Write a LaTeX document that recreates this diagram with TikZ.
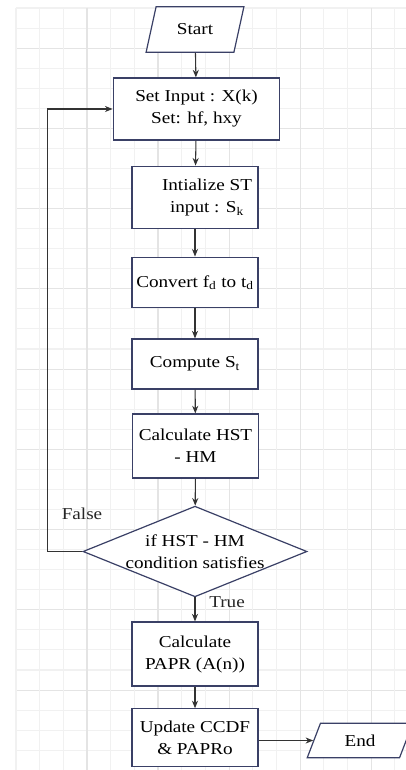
\documentclass[tikz,border=0pt]{standalone}
\usepackage{fontspec}
\setmainfont{Liberation Serif}[FakeStretch=1.15]
\usepackage{xcolor}
\usepackage{tikz}
\usetikzlibrary{arrows.meta,positioning,shapes.geometric,calc}
\definecolor{boxnavy}{HTML}{3A4066}
\definecolor{gridlight}{HTML}{F1F1F1}
\definecolor{griddark}{HTML}{E4E4E4}

\begin{document}
\begin{tikzpicture}[
  x=0.75pt, y=-0.75pt,
  font=\fontsize{12.5}{16.5}\selectfont,
  >={Stealth[length=2mm,width=1.6mm]},
  proc/.style={draw=boxnavy, line width=0.9pt, fill=white,
               minimum width=94.5pt, minimum height=47pt,
               align=center, inner sep=2pt},
  io/.style={trapezium, trapezium stretches=true,
             trapezium left angle=74, trapezium right angle=106,
             draw=boxnavy, line width=0.9pt, fill=white,
             minimum width=73.5pt, minimum height=34pt},
  decide/.style={diamond, aspect=2.47, draw=boxnavy, line width=0.9pt,
                 fill=white, align=center, inner xsep=-6pt, inner ysep=0pt,
                 minimum width=168pt, minimum height=68pt},
  flow/.style={->, line width=0.8pt, black!80},
  tag/.style={text=black!85},
  minorline/.style={gridlight, line width=0.8pt},
  majorline/.style={griddark, line width=0.8pt},
]
\useasboundingbox (0,0) rectangle (406,770);

% ── background grid ─────────────────────────────────────────────────────────
\foreach \j in {0,...,38}
  \draw[minorline] (16,8+20.06*\j) -- (406,8+20.06*\j);
\foreach \j in {2,6,...,34}
  \draw[majorline] (16,8+20.06*\j) -- (406,8+20.06*\j);
\foreach \i in {0,...,16}
  \draw[minorline] (16+23.67*\i,8) -- (16+23.67*\i,770);
\foreach \i in {3,6,...,15}
  \draw[majorline] (16+23.67*\i,8) -- (16+23.67*\i,770);

% ── main chain ──────────────────────────────────────────────────────────────
\node[io]   (start) at (195,29.5)  {Start};
\node[proc, minimum width=125pt, minimum height=46.5pt]
            (setin) at (196.5,109) {Set Input : X(k)\\Set: hf, hxy};
\node[proc] (init)  at (195,197.5)
  {\hspace*{18pt}Intialize ST\\\hspace*{18pt}input : S\textsubscript{k}};
\node[proc, minimum height=38pt]
            (conv)  at (195,282.5) {Convert f\textsubscript{d} to t\textsubscript{d}};
\node[proc, minimum height=37.5pt]
            (comp)  at (195,364)   {Compute S\textsubscript{t}};
\node[proc, minimum height=48pt]
            (hst)   at (195.5,446) {Calculate HST\\- HM};
\node[decide] (cond) at (195,551.5) {if HST - HM\\condition satisfies};
\node[proc, minimum height=48pt]
            (papr)  at (195,654)   {Calculate\\PAPR (A(n))};
\node[proc, minimum height=43pt]
            (ccdf)  at (195,737.5) {Update CCDF\\\& PAPRo};
\node[io, minimum width=79.5pt, minimum height=26pt,
      trapezium left angle=72, trapezium right angle=108]
            (stop)  at (360,740.5) {End};

\draw[flow] (start) -- (setin);
\draw[flow] (setin) -- (init);
\draw[flow] (init) -- (conv);
\draw[flow] (conv) -- (comp);
\draw[flow] (comp) -- (hst);
\draw[flow] (hst) -- (cond);
\draw[flow] (cond) -- (papr);
\draw[flow] (papr) -- (ccdf);
\draw[flow] (ccdf.east |- stop.west) -- (stop.west);

% ── feedback loop on the false branch ───────────────────────────────────────
\coordinate (rail) at (47.5,0);
\draw[flow] (cond.west) -- (cond.west -| rail) |- (setin.west);

\node[tag] (nolab)  at (82,514)  {False};
\node[tag] (yeslab) at (227,602) {True};
\end{tikzpicture}
\end{document}
